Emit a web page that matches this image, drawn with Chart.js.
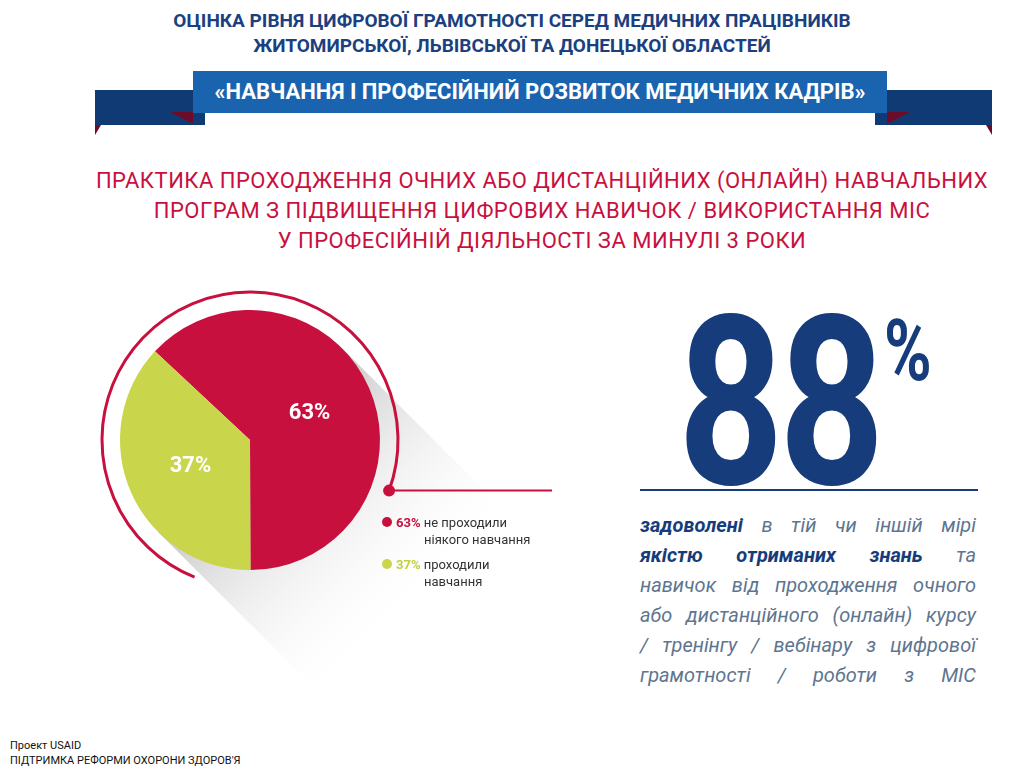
<!DOCTYPE html>
<html><head><meta charset="utf-8">
<script src="https://cdn.jsdelivr.net/npm/chart.js@4/dist/chart.umd.min.js"></script>
<style>
body{margin:0;width:1024px;height:768px;background:#fff;position:relative;overflow:hidden;font-family:Roboto,"Liberation Sans",sans-serif}
.abs{position:absolute}
#title{left:0;width:1024px;top:8px;text-align:center;color:#1b3f80;font-weight:bold;font-size:19px;line-height:25px}
#sub{left:30px;width:1024px;top:166px;text-align:center;color:#c8103e;font-size:22px;line-height:30px;letter-spacing:0.5px}
.rib{background:#0f3a73}
#big{left:678px;top:286px;color:#163c7b;font-weight:bold;font-size:236px;line-height:236px;transform:scaleX(0.78);transform-origin:left top;letter-spacing:-6px}
#pct{left:884px;top:300px;color:#163c7b;font-weight:bold;font-size:86px;transform:scaleX(0.75);transform-origin:left top}
#para{left:640px;top:510px;width:336px;color:#5e7590;font-style:italic;font-size:20px;line-height:30px}
#para div{text-align:justify;text-align-last:justify}
#para b{color:#163c7b}
.leg{font-size:13px;color:#333;line-height:17px}
.leg span.d{display:inline-block;width:10px;height:10px;border-radius:50%;margin-right:4px}
</style></head><body>
<div id="title" class="abs">ОЦІНКА РІВНЯ ЦИФРОВОЇ ГРАМОТНОСТІ СЕРЕД МЕДИЧНИХ ПРАЦІВНИКІВ<br>ЖИТОМИРСЬКОЇ, ЛЬВІВСЬКОЇ ТА ДОНЕЦЬКОЇ ОБЛАСТЕЙ</div>
<div class="abs rib" style="left:95px;top:90px;width:110px;height:35px"></div>
<div class="abs rib" style="left:875px;top:90px;width:117px;height:35px"></div>
<div class="abs" style="left:95px;top:125px;width:0;height:0;border-top:10px solid #6b0d2a;border-right:6px solid transparent"></div>
<div class="abs" style="left:986px;top:125px;width:0;height:0;border-top:10px solid #6b0d2a;border-left:6px solid transparent"></div>
<div class="abs" style="left:170px;top:112px;border-top:12px solid #6b0d2a;border-left:23px solid transparent"></div>
<div class="abs" style="left:887px;top:112px;border-top:12px solid #6b0d2a;border-right:23px solid transparent"></div>
<div class="abs" style="left:193px;top:71px;width:694px;height:42px;background:#1a63ae;color:#fff;font-weight:bold;font-size:22px;line-height:42px;text-align:center">«НАВЧАННЯ І ПРОФЕСІЙНИЙ РОЗВИТОК МЕДИЧНИХ КАДРІВ»</div>
<div id="sub" class="abs">ПРАКТИКА ПРОХОДЖЕННЯ ОЧНИХ АБО ДИСТАНЦІЙНИХ (ОНЛАЙН) НАВЧАЛЬНИХ<br>ПРОГРАМ З ПІДВИЩЕННЯ ЦИФРОВИХ НАВИЧОК / ВИКОРИСТАННЯ МІС<br>У ПРОФЕСІЙНІЙ ДІЯЛЬНОСТІ ЗА МИНУЛІ 3 РОКИ</div>
<div class="abs" style="left:0;top:190px;width:600px;height:500px"><canvas id="c"></canvas></div>
<div class="abs leg" style="left:382px;top:514px"><span class="d" style="background:#c8103e"></span><b style="color:#c8103e">63%</b> не проходили<br><span style="margin-left:42px">ніякого навчання</span></div>
<div class="abs leg" style="left:382px;top:556px"><span class="d" style="background:#c9d54a"></span><b style="color:#c3cf3c">37%</b> проходили<br><span style="margin-left:42px">навчання</span></div>
<div id="big" class="abs">88</div>
<div id="pct" class="abs">%</div>
<div class="abs" style="left:640px;top:489px;width:338px;height:2px;background:#163c7b"></div>
<div id="para" class="abs">
<div><b>задоволені</b> в тій чи іншій мірі</div>
<div><b>якістю отриманих знань</b> та</div>
<div>навичок від проходження очного</div>
<div>або дистанційного (онлайн) курсу</div>
<div>/ тренінгу / вебінару з цифрової</div>
<div>грамотності / роботи з МІС</div>
</div>
<div class="abs" style="left:10px;top:738px;font-size:11px;line-height:15px;color:#111">Проект USAID<br>ПІДТРИМКА РЕФОРМИ ОХОРОНИ ЗДОРОВ'Я</div>
<script>
const labels = ['не проходили ніякого навчання', 'проходили навчання'];
const values = [63, 37];
const colors = ['#c8103e', '#c9d54a'];

const deco = {
  id: 'deco',
  beforeDatasetsDraw(chart) {
    const arc = chart.getDatasetMeta(0).data[0];
    const {x, y, outerRadius: r} = arc;
    const ctx = chart.ctx;
    // long shadow towards lower right
    const a = Math.PI / 4, len = 240;
    const p1 = [x + r * Math.cos(a - Math.PI / 2), y + r * Math.sin(a - Math.PI / 2)];
    const p2 = [x + r * Math.cos(a + Math.PI / 2), y + r * Math.sin(a + Math.PI / 2)];
    const dx = Math.cos(a) * len, dy = Math.sin(a) * len;
    const g = ctx.createLinearGradient(x, y, x + dx, y + dy);
    g.addColorStop(0, 'rgba(150,150,150,0.55)');
    g.addColorStop(1, 'rgba(255,255,255,0)');
    ctx.save();
    ctx.fillStyle = g;
    ctx.beginPath();
    ctx.moveTo(p1[0], p1[1]);
    ctx.lineTo(p1[0] + dx, p1[1] + dy);
    ctx.lineTo(p2[0] + dx, p2[1] + dy);
    ctx.lineTo(p2[0], p2[1]);
    ctx.closePath();
    ctx.fill();
    // thin outer arc with dot and leader line
    const R = r + 18, e = 20 * Math.PI / 180;
    ctx.strokeStyle = '#c8103e';
    ctx.lineWidth = 3;
    ctx.beginPath();
    ctx.arc(x, y, R, 112 * Math.PI / 180, 2 * Math.PI + e);
    ctx.stroke();
    const ex = x + R * Math.cos(e), ey = y + R * Math.sin(e);
    ctx.lineWidth = 2;
    ctx.beginPath();
    ctx.moveTo(ex, ey);
    ctx.lineTo(552, ey);
    ctx.stroke();
    ctx.fillStyle = '#c8103e';
    ctx.beginPath();
    ctx.arc(ex, ey, 6, 0, 2 * Math.PI);
    ctx.fill();
    ctx.restore();
  },
  afterDatasetsDraw(chart) {
    const ctx = chart.ctx;
    ctx.save();
    ctx.fillStyle = '#fff';
    ctx.font = 'bold 22px Roboto, sans-serif';
    ctx.textAlign = 'center';
    ctx.textBaseline = 'middle';
    chart.getDatasetMeta(0).data.forEach((el, i) => {
      const p = el.getCenterPoint();
      ctx.fillText(values[i] + '%', p.x, p.y);
    });
    ctx.restore();
  }
};

new Chart(document.getElementById('c'), {
  type: 'pie',
  data: { labels: labels, datasets: [{ data: values, backgroundColor: colors, borderWidth: 0 }] },
  options: {
    responsive: true,
    maintainAspectRatio: false,
    animation: false,
    rotation: -47,
    layout: { padding: { left: 120, right: 220, top: 120, bottom: 120 } },
    plugins: { legend: { display: false }, tooltip: { enabled: false } }
  },
  plugins: [deco]
});
</script>
</body></html>
